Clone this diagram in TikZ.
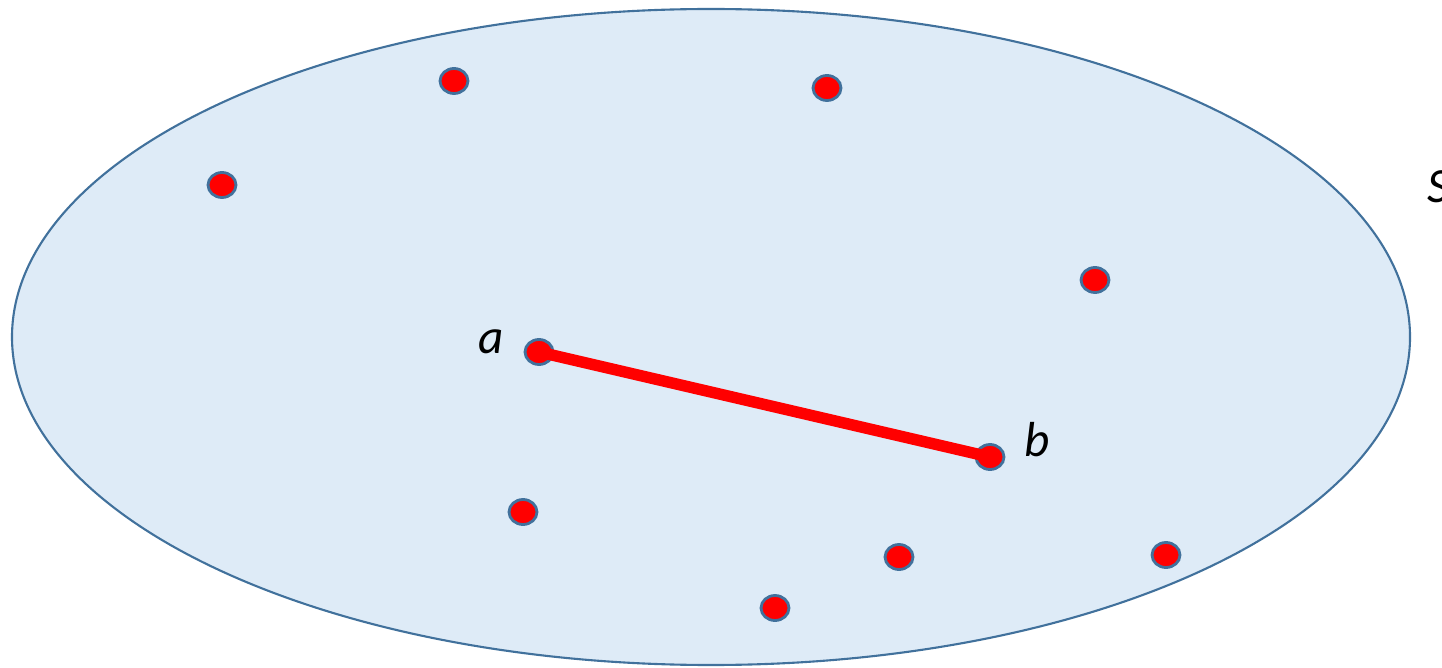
\documentclass[tikz,border=0pt]{standalone}
\usepackage{fontspec}
\setmainfont{Carlito}
\usetikzlibrary{shapes.geometric}
\definecolor{setFill}{HTML}{DEEBF7}
\definecolor{setLine}{HTML}{41719C}
\tikzset{
  ptdot/.style={ellipse, draw=setLine, line width=1.6pt, fill=red, inner sep=0pt,
    minimum width=0.56cm, minimum height=0.5cm},
  ptlabel/.style={font=\itshape\fontsize{28}{30}\selectfont, inner sep=0pt}
}
\begin{document}
\begin{tikzpicture}
% set S drawn on a pixel grid, origin top left
\def\pxsz{0.02cm}
\begin{scope}[x=\pxsz, y=-\pxsz, line cap=round, line join=round]
  \useasboundingbox (0,0) rectangle (1442,668);
  \clip (0,0) rectangle (1442,668);
  % The set
  \draw[setLine, fill=setFill, line width=1.2pt] (711,337) ellipse [x radius=699, y radius=328];
  \node[ptlabel, anchor=west] (setname) at (1427,187) {S};
  % Points of the set
  \node[ptdot] (p1) at (454,81) {};
  \node[ptdot] (p2) at (827,88) {};
  \node[ptdot] (p3) at (222,185) {};
  \node[ptdot] (p4) at (1095,280) {};
  \node[ptdot] (pa) at (539,352) {};
  \node[ptdot] (pb) at (990,457) {};
  \node[ptdot] (p5) at (523,512) {};
  \node[ptdot] (p6) at (899,557) {};
  \node[ptdot] (p7) at (1166,555) {};
  \node[ptdot] (p8) at (775,608) {};
  % Segment from a to b
  \draw[red, line width=6.5pt, line cap=butt] (pa.center) -- (pb.center);
  \node[ptlabel] (la) at (491,342) {a};
  \node[ptlabel] (lb) at (1037,440) {b};
\end{scope}
\end{tikzpicture}
\end{document}
